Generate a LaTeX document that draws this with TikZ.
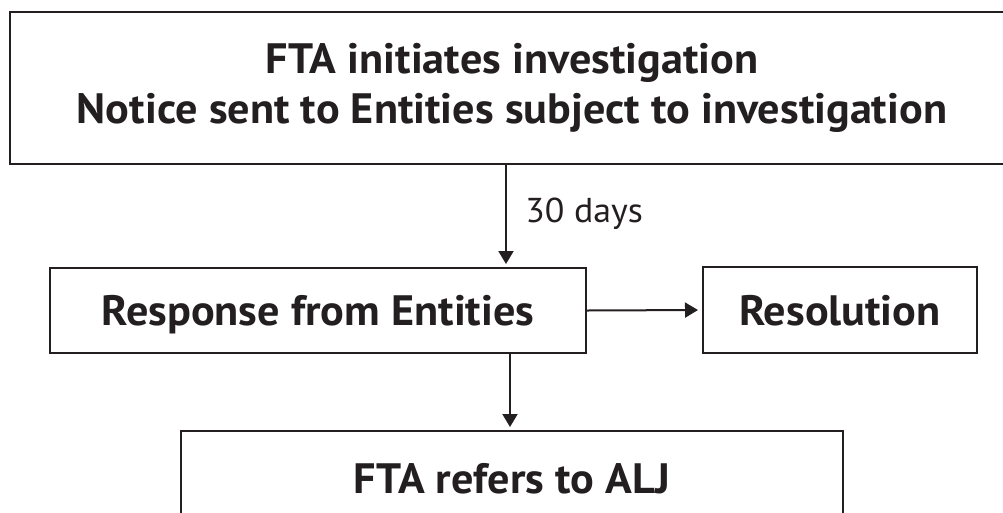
\documentclass[tikz,border=0pt]{standalone}
\usepackage{fontspec}
\setmainfont{PT Sans}[FakeStretch=1.04]
\usetikzlibrary{arrows.meta}
\definecolor{ink}{HTML}{231F20}

\begin{document}
\begin{tikzpicture}[x=1pt, y=-1pt, line width=2pt,
  stepbox/.style={draw=ink, text=ink, fill=white, inner sep=0pt, align=center,
    font=\fontsize{42.5}{50}\selectfont\bfseries},
  onebox/.style={stepbox, text height=30pt, text depth=0pt}]
\tikzset{edge/.style = {-{Triangle[width=15pt, length=13pt]}, ink, shorten >=3pt}}
\useasboundingbox (0,0) rectangle (1003,512);
\clip (0,0) rectangle (1003,512);
\node[stepbox, minimum width=1004, minimum height=152] (fta) at (512,88)
  {FTA initiates investigation\\Notice sent to Entities subject to investigation};
\node[onebox, minimum width=536, minimum height=85] (resp) at (318,310.5) {Response from Entities};
\node[onebox, minimum width=274, minimum height=86] (res) at (840,310) {Resolution};
\node[onebox, minimum width=662, minimum height=94] (alj) at (512,478) {FTA refers to ALJ};
\coordinate (a) at (506,0);
\coordinate (b) at (510,0);
\node[anchor=west, text=ink, font=\fontsize{34.5}{40}\selectfont] (days) at (521,214) {30 days};
\draw[edge] (fta.south -| a) to (resp.north -| a);
\draw[edge, shorten >=4pt] (resp.east) to (res.west);
\draw[edge] (resp.south -| b) to (alj.north -| b);
\end{tikzpicture}
\end{document}
